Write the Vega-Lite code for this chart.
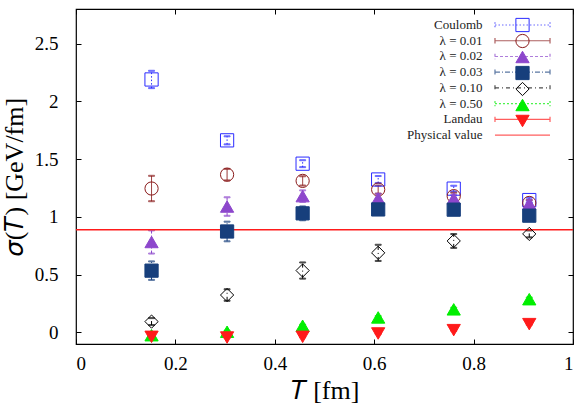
{
  "$schema": "https://vega.github.io/schema/vega-lite/v6.json",
  "width": 497,
  "height": 335,
  "autosize": {"type": "none"},
  "padding": {"left": 76, "top": 9, "right": 6, "bottom": 62},
  "background": "white",
  "config": {
    "view": {"stroke": "black", "strokeWidth": 1.2},
    "axis": {"grid": false, "domain": false, "tickColor": "black", "tickWidth": 1,
             "labelFont": "Liberation Serif", "labelFontSize": 19, "labelColor": "black",
             "titleFont": "Liberation Serif", "titleFontSize": 26, "titleFontWeight": "normal", "titleColor": "black"},
    "legend": {"padding": 0, "labelFont": "Liberation Serif", "labelFontSize": 13,
               "labelColor": "#222222", "labelAlign": "right", "labelLimit": 200}
  },
  "datasets": {
    "pts": [
      {"series": "Coulomb", "T": 0.152, "sigma": 2.19, "lo": 2.115, "hi": 2.265},
      {"series": "Coulomb", "T": 0.304, "sigma": 1.663, "lo": 1.628, "hi": 1.698},
      {"series": "Coulomb", "T": 0.456, "sigma": 1.461, "lo": 1.431, "hi": 1.491},
      {"series": "Coulomb", "T": 0.608, "sigma": 1.324, "lo": 1.294, "hi": 1.354},
      {"series": "Coulomb", "T": 0.76, "sigma": 1.245, "lo": 1.22, "hi": 1.27},
      {"series": "Coulomb", "T": 0.912, "sigma": 1.146, "lo": 1.126, "hi": 1.166},
      {"series": "λ = 0.01", "T": 0.152, "sigma": 1.246, "lo": 1.136, "hi": 1.356},
      {"series": "λ = 0.01", "T": 0.304, "sigma": 1.366, "lo": 1.316, "hi": 1.416},
      {"series": "λ = 0.01", "T": 0.456, "sigma": 1.312, "lo": 1.272, "hi": 1.352},
      {"series": "λ = 0.01", "T": 0.608, "sigma": 1.237, "lo": 1.202, "hi": 1.272},
      {"series": "λ = 0.01", "T": 0.76, "sigma": 1.18, "lo": 1.15, "hi": 1.21},
      {"series": "λ = 0.01", "T": 0.912, "sigma": 1.121, "lo": 1.096, "hi": 1.146},
      {"series": "λ = 0.02", "T": 0.152, "sigma": 0.783, "lo": 0.683, "hi": 0.883},
      {"series": "λ = 0.02", "T": 0.304, "sigma": 1.09, "lo": 1.01, "hi": 1.17},
      {"series": "λ = 0.02", "T": 0.456, "sigma": 1.18, "lo": 1.13, "hi": 1.23},
      {"series": "λ = 0.02", "T": 0.608, "sigma": 1.16, "lo": 1.12, "hi": 1.2},
      {"series": "λ = 0.02", "T": 0.76, "sigma": 1.16, "lo": 1.13, "hi": 1.19},
      {"series": "λ = 0.02", "T": 0.912, "sigma": 1.115, "lo": 1.085, "hi": 1.145},
      {"series": "λ = 0.03", "T": 0.152, "sigma": 0.535, "lo": 0.455, "hi": 0.615},
      {"series": "λ = 0.03", "T": 0.304, "sigma": 0.874, "lo": 0.789, "hi": 0.959},
      {"series": "λ = 0.03", "T": 0.456, "sigma": 1.031, "lo": 0.971, "hi": 1.091},
      {"series": "λ = 0.03", "T": 0.608, "sigma": 1.065, "lo": 1.025, "hi": 1.105},
      {"series": "λ = 0.03", "T": 0.76, "sigma": 1.063, "lo": 1.033, "hi": 1.093},
      {"series": "λ = 0.03", "T": 0.912, "sigma": 1.011, "lo": 0.981, "hi": 1.041},
      {"series": "λ = 0.10", "T": 0.152, "sigma": 0.094, "lo": 0.064, "hi": 0.124},
      {"series": "λ = 0.10", "T": 0.304, "sigma": 0.324, "lo": 0.274, "hi": 0.374},
      {"series": "λ = 0.10", "T": 0.456, "sigma": 0.536, "lo": 0.466, "hi": 0.606},
      {"series": "λ = 0.10", "T": 0.608, "sigma": 0.689, "lo": 0.619, "hi": 0.759},
      {"series": "λ = 0.10", "T": 0.76, "sigma": 0.792, "lo": 0.732, "hi": 0.852},
      {"series": "λ = 0.10", "T": 0.912, "sigma": 0.853, "lo": 0.823, "hi": 0.883},
      {"series": "λ = 0.50", "T": 0.152, "sigma": -0.024, "lo": -0.034, "hi": -0.014},
      {"series": "λ = 0.50", "T": 0.304, "sigma": 0.006, "lo": -0.004, "hi": 0.016},
      {"series": "λ = 0.50", "T": 0.456, "sigma": 0.058, "lo": 0.048, "hi": 0.068},
      {"series": "λ = 0.50", "T": 0.608, "sigma": 0.13, "lo": 0.118, "hi": 0.142},
      {"series": "λ = 0.50", "T": 0.76, "sigma": 0.2, "lo": 0.185, "hi": 0.215},
      {"series": "λ = 0.50", "T": 0.912, "sigma": 0.288, "lo": 0.273, "hi": 0.303},
      {"series": "Landau", "T": 0.152, "sigma": -0.038, "lo": -0.043, "hi": -0.033},
      {"series": "Landau", "T": 0.304, "sigma": -0.044, "lo": -0.049, "hi": -0.039},
      {"series": "Landau", "T": 0.456, "sigma": -0.038, "lo": -0.043, "hi": -0.033},
      {"series": "Landau", "T": 0.608, "sigma": -0.009, "lo": -0.014, "hi": -0.004},
      {"series": "Landau", "T": 0.76, "sigma": 0.02, "lo": 0.014, "hi": 0.026},
      {"series": "Landau", "T": 0.912, "sigma": 0.072, "lo": 0.066, "hi": 0.078}
    ],
    "phys": [{"series": "Physical value", "sigma": 0.89}]
  },
  "resolve": {
    "scale": {"stroke": "independent", "strokeDash": "independent", "shape": "independent", "fill": "independent"},
    "axis": {"x": "independent", "y": "independent"}
  },
  "layer": [
    {
      "description": "legend rows: line style of each series, with labels",
      "data": {"name": "pts"},
      "transform": [{"filter": "false"}],
      "mark": {"type": "point", "filled": false, "size": 175, "strokeWidth": 1},
      "encoding": {
        "shape": {"field": "series", "type": "nominal",
          "scale": {"domain": ["Coulomb", "λ = 0.01", "λ = 0.02", "λ = 0.03", "λ = 0.10", "λ = 0.50", "Landau", "Physical value"],
                    "range": ["M-4.16,0H4.16M-4.16,-0.4V0.4M4.16,-0.4V0.4", "M-4.16,0H4.16M-4.16,-0.4V0.4M4.16,-0.4V0.4", "M-4.16,0H4.16M-4.16,-0.4V0.4M4.16,-0.4V0.4", "M-4.16,0H4.16M-4.16,-0.4V0.4M4.16,-0.4V0.4", "M-4.16,0H4.16M-4.16,-0.4V0.4M4.16,-0.4V0.4", "M-4.16,0H4.16M-4.16,-0.4V0.4M4.16,-0.4V0.4", "M-4.16,0H4.16M-4.16,-0.4V0.4M4.16,-0.4V0.4", "M-4.16,0H4.16"]},
          "legend": {"orient": "none", "legendX": 439, "legendY": 8.5, "title": null, "rowPadding": 0.74, "labelOffset": -47.5, "symbolSize": 175, "symbolStrokeWidth": 1.2}},
        "stroke": {"field": "series", "type": "nominal",
          "scale": {"domain": ["Coulomb", "λ = 0.01", "λ = 0.02", "λ = 0.03", "λ = 0.10", "λ = 0.50", "Landau", "Physical value"],
                    "range": ["#2b2bff", "#8b1c1c", "#8d47cc", "#173f7c", "#000000", "#00ee00", "#ff1a1a", "#ff1a1a"]},
          "legend": {"orient": "none", "legendX": 439, "legendY": 8.5, "title": null, "rowPadding": 0.74, "labelOffset": -47.5, "symbolSize": 175, "symbolStrokeWidth": 1.2}},
        "strokeDash": {"field": "series", "type": "nominal",
          "scale": {"domain": ["Coulomb", "λ = 0.01", "λ = 0.02", "λ = 0.03", "λ = 0.10", "λ = 0.50", "Landau", "Physical value"],
                    "range": [[1.5, 2], [1, 0], [3, 2], [5, 2, 1, 2], [4, 3, 1, 3], [2, 2], [1, 0], [1, 0]]},
          "legend": {"orient": "none", "legendX": 439, "legendY": 8.5, "title": null, "rowPadding": 0.74, "labelOffset": -47.5, "symbolSize": 175, "symbolStrokeWidth": 1.2}}
      }
    },
    {
      "description": "error bars, with the mirrored top and right tick axes",
      "data": {"name": "pts"},
      "mark": {"type": "rule", "strokeWidth": 1},
      "encoding": {
        "x": {"field": "T", "type": "quantitative", "scale": {"domain": [0, 1], "nice": false, "zero": false},
              "axis": {"orient": "top", "values": [0, 0.2, 0.4, 0.6, 0.8, 1], "labels": false, "title": null, "tickSize": -5}},
        "y": {"field": "lo", "type": "quantitative", "scale": {"domain": [-0.1, 2.8], "nice": false, "zero": false},
              "axis": {"orient": "right", "values": [0, 0.5, 1, 1.5, 2, 2.5], "labels": false, "title": null, "tickSize": -5}},
        "y2": {"field": "hi"},
        "stroke": {"field": "series", "type": "nominal", "legend": null,
          "scale": {"domain": ["Coulomb", "λ = 0.01", "λ = 0.02", "λ = 0.03", "λ = 0.10", "λ = 0.50", "Landau"],
                    "range": ["#2b2bff", "#8b1c1c", "#8d47cc", "#173f7c", "#000000", "#00ee00", "#ff1a1a"]}},
        "strokeDash": {"field": "series", "type": "nominal", "legend": null,
          "scale": {"domain": ["Coulomb", "λ = 0.01", "λ = 0.02", "λ = 0.03", "λ = 0.10", "λ = 0.50", "Landau"],
                    "range": [[1.5, 2], [1, 0], [3, 2], [5, 2, 1, 2], [4, 3, 1, 3], [2, 2], [1, 0]]}}
      }
    },
    {
      "description": "lower caps",
      "data": {"name": "pts"},
      "mark": {"type": "tick", "orient": "horizontal", "size": 6, "thickness": 1},
      "encoding": {
        "x": {"field": "T", "type": "quantitative", "axis": null},
        "y": {"field": "lo", "type": "quantitative", "axis": null},
        "stroke": {"field": "series", "type": "nominal", "legend": null,
          "scale": {"domain": ["Coulomb", "λ = 0.01", "λ = 0.02", "λ = 0.03", "λ = 0.10", "λ = 0.50", "Landau"],
                    "range": ["#2b2bff", "#8b1c1c", "#8d47cc", "#173f7c", "#000000", "#00ee00", "#ff1a1a"]}},
        "fill": {"field": "series", "type": "nominal", "legend": null,
          "scale": {"domain": ["Coulomb", "λ = 0.01", "λ = 0.02", "λ = 0.03", "λ = 0.10", "λ = 0.50", "Landau"],
                    "range": ["#2b2bff", "#8b1c1c", "#8d47cc", "#173f7c", "#000000", "#00ee00", "#ff1a1a"]}}
      }
    },
    {
      "description": "upper caps",
      "data": {"name": "pts"},
      "mark": {"type": "tick", "orient": "horizontal", "size": 6, "thickness": 1},
      "encoding": {
        "x": {"field": "T", "type": "quantitative", "axis": null},
        "y": {"field": "hi", "type": "quantitative", "axis": null},
        "stroke": {"field": "series", "type": "nominal", "legend": null,
          "scale": {"domain": ["Coulomb", "λ = 0.01", "λ = 0.02", "λ = 0.03", "λ = 0.10", "λ = 0.50", "Landau"],
                    "range": ["#2b2bff", "#8b1c1c", "#8d47cc", "#173f7c", "#000000", "#00ee00", "#ff1a1a"]}},
        "fill": {"field": "series", "type": "nominal", "legend": null,
          "scale": {"domain": ["Coulomb", "λ = 0.01", "λ = 0.02", "λ = 0.03", "λ = 0.10", "λ = 0.50", "Landau"],
                    "range": ["#2b2bff", "#8b1c1c", "#8d47cc", "#173f7c", "#000000", "#00ee00", "#ff1a1a"]}}
      }
    },
    {
      "description": "physical value",
      "data": {"name": "phys"},
      "mark": {"type": "rule", "stroke": "#ff1a1a", "strokeWidth": 1.5},
      "encoding": {
        "y": {"field": "sigma", "type": "quantitative", "axis": null}
      }
    },
    {
      "description": "data points, with the main axes and the marker legend",
      "data": {"name": "pts"},
      "mark": {"type": "point", "size": 175, "strokeWidth": 1, "opacity": 1},
      "encoding": {
        "x": {"field": "T", "type": "quantitative",
              "axis": {"orient": "bottom", "values": [0, 0.2, 0.4, 0.6, 0.8, 1], "format": "~g", "tickSize": -5, "labelPadding": 15,
                       "title": "𝑇 [fm]", "titlePadding": 4}},
        "y": {"field": "sigma", "type": "quantitative",
              "axis": {"orient": "left", "values": [0, 0.5, 1, 1.5, 2, 2.5], "format": "~g", "tickSize": -5, "labelPadding": 23,
                       "title": "𝜎(𝑇) [GeV/fm]", "titlePadding": 7}},
        "shape": {"field": "series", "type": "nominal",
          "scale": {"domain": ["Coulomb", "λ = 0.01", "λ = 0.02", "λ = 0.03", "λ = 0.10", "λ = 0.50", "Landau"],
                    "range": ["square", "circle", "triangle-up", "square", "diamond", "triangle-up", "triangle-down"]},
          "legend": {"orient": "none", "legendX": 439, "legendY": 8, "title": null, "rowPadding": 0, "clipHeight": 16, "labelExpr": "''", "symbolSize": 175, "symbolStrokeWidth": 1}},
        "stroke": {"field": "series", "type": "nominal",
          "scale": {"domain": ["Coulomb", "λ = 0.01", "λ = 0.02", "λ = 0.03", "λ = 0.10", "λ = 0.50", "Landau"],
                    "range": ["#2b2bff", "#8b1c1c", "#8d47cc", "#173f7c", "#000000", "#00ee00", "#ff1a1a"]},
          "legend": {"orient": "none", "legendX": 439, "legendY": 8, "title": null, "rowPadding": 0, "clipHeight": 16, "labelExpr": "''", "symbolSize": 175, "symbolStrokeWidth": 1}},
        "fill": {"field": "series", "type": "nominal",
          "scale": {"domain": ["Coulomb", "λ = 0.01", "λ = 0.02", "λ = 0.03", "λ = 0.10", "λ = 0.50", "Landau"],
                    "range": ["transparent", "transparent", "#8d47cc", "#173f7c", "transparent", "#00ee00", "#ff1a1a"]},
          "legend": {"orient": "none", "legendX": 439, "legendY": 8, "title": null, "rowPadding": 0, "clipHeight": 16, "labelExpr": "''", "symbolSize": 175, "symbolStrokeWidth": 1}}
      }
    }
  ]
}
